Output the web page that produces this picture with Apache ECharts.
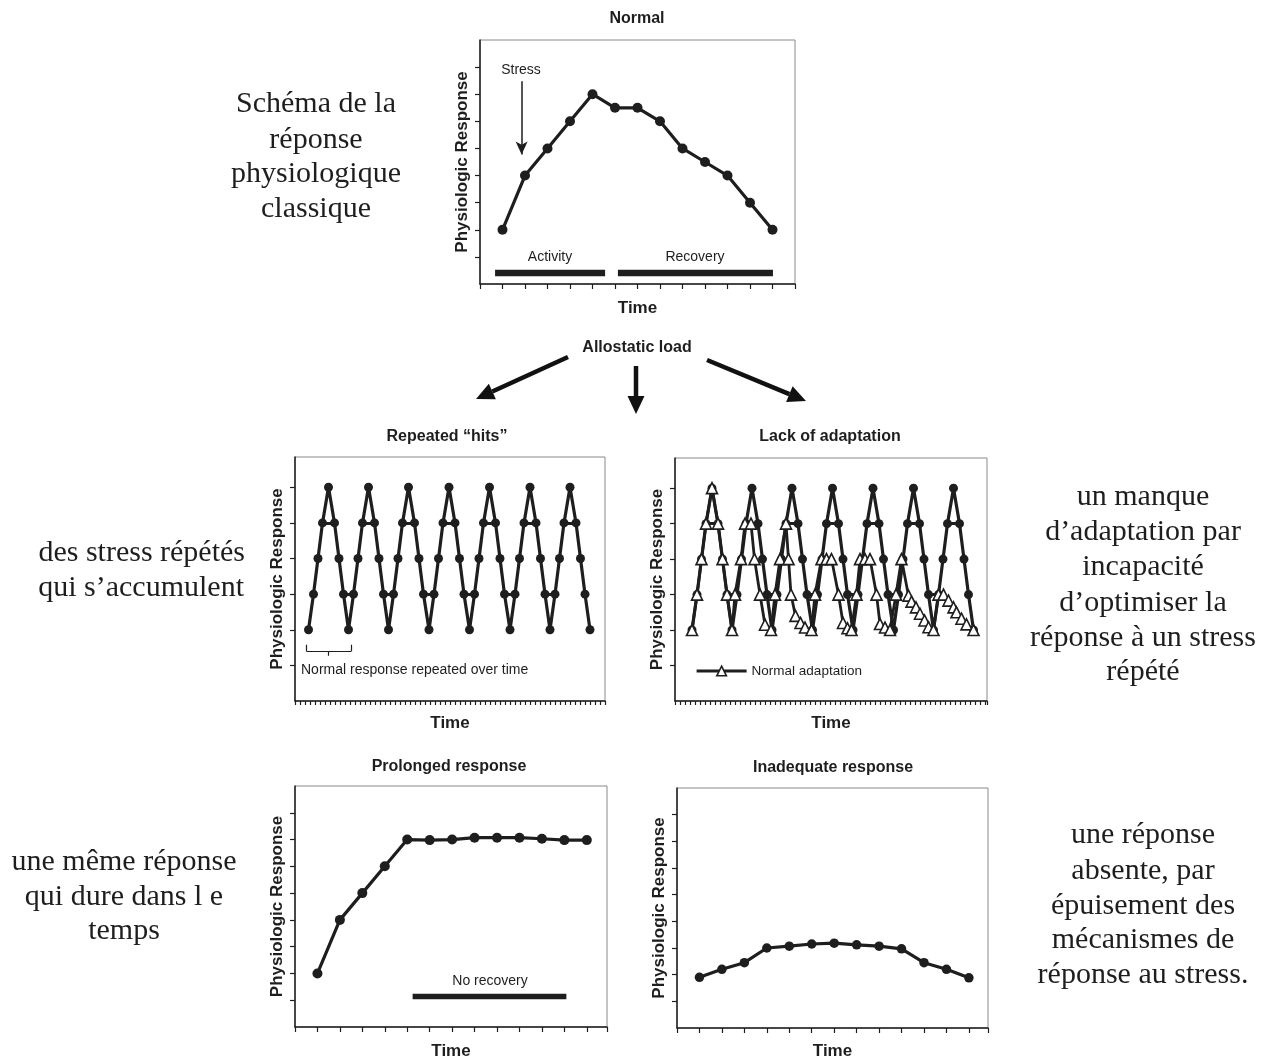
<!DOCTYPE html>
<html><head><meta charset="utf-8">
<script src="https://cdn.jsdelivr.net/npm/echarts@6/dist/echarts.min.js"></script>
<style>html,body{margin:0;padding:0;background:#fff}#c{width:1266px;height:1061px}</style>
</head><body><div id="c"></div>
<script>
// ---------------- DATA ----------------
// Normal
const normalTime = [1,2,3,4,5,6,7,8,9,10,11,12,13];
const normalResponse = [2,4,5,6,7,6.5,6.5,6,5,4.5,4,3,2];
const activitySpan = [0.67, 5.56];
const recoverySpan = [6.13, 13.02];
const phaseBarLevel = 0.41;
const stressArrowTime = 1.85;
const stressArrowFromTo = [7.48, 4.78];

// Repeated "hits"
const hitsTime = [2.7,3.7,4.6,5.5,6.7,7.9,8.8,9.7,
  10.7,11.7,12.6,13.5,14.7,15.9,16.8,17.7,
  18.7,19.7,20.6,21.5,22.7,23.9,24.8,25.7,
  26.8,27.8,28.7,29.6,30.8,32.0,32.9,33.8,
  34.9,35.9,36.8,37.7,38.9,40.1,41.0,41.9,
  43.0,44.0,44.9,45.8,47.0,48.2,49.1,50.0,
  51.0,52.0,52.9,53.8,55.0,56.2,57.1,58.0,
  59.0];
const hitsResponse = [2,3,4,5,6,5,4,3,
  2,3,4,5,6,5,4,3,
  2,3,4,5,6,5,4,3,
  2,3,4,5,6,5,4,3,
  2,3,4,5,6,5,4,3,
  2,3,4,5,6,5,4,3,
  2,3,4,5,6,5,4,3,
  2];
const bracketSpan = [2.34, 11.2];
const bracketMid = 6.67;
const bracketBarLevel = 1.39, bracketEndLevel = 1.58, bracketMidLevel = 1.27;

// Lack of adaptation: normal adaptation (triangles)
const adaptTime = [2.7,3.7,4.6,5.5,6.7,7.9,8.8,9.7,10.7,
  11.3,12.5,13.3,14.5,15.2,16.3,17.3,18.5,
  19.3,20.3,21.5,22.0,22.5,23.4,24.4,25.3,26.6,
  27.3,28.6,29.6,30.6,32.0,32.9,33.8,34.6,
  35.6,36.3,37.3,38.3,39.6,40.3,41.3,42.3,
  43.5,44.6,46.0,46.6,47.5,48.3,49.2,50.0,51.0,
  52.0,53.0,54.0,55.0,55.6,56.6,57.6,59.0];
const adaptResponse = [2,3,4,5,6,5,4,3,2,
  3,4,5,5,4,3,2.15,2,
  3,4,5,4,3,2.4,2.2,2.07,2,
  3,4,4,4,3,2.2,2.05,2,
  3,4,4,4,3,2.17,2.07,2,
  3,4,2.97,2.8,2.64,2.46,2.27,2.08,2,
  3,3,2.83,2.64,2.5,2.32,2.16,2];

// Prolonged response
const prolongedTime = [1,2,3,4,5,6,7,8,9,10,11,12,13];
const prolongedResponse = [2,4,5,6,7,6.98,7,7.07,7.07,7.07,7.03,6.98,6.98];
const noRecoverySpan = [5.24, 12.09];
const noRecoveryLevel = 1.14;

// Inadequate response
const inadequateTime = [1,2,3,4,5,6,7,8,9,10,11,12,13];
const inadequateResponse = [1.9,2.2,2.45,3.0,3.07,3.15,3.18,3.12,3.07,2.97,2.45,2.2,1.88];

const yTicksTall = [1,2,3,4,5,6,7,8];
const yTicksShort = [1,2,3,4,5,6];

// ---------------- STYLE / LAYOUT ----------------
const SANS = "'Liberation Sans', Arial, sans-serif";
const SERIF = "'Liberation Serif', 'Times New Roman', serif";
const INK = '#1e1e1e';

const grids = [
  {left:480, top:40,  width:315, height:244},
  {left:295, top:457, width:310, height:244},
  {left:675, top:458, width:312, height:243},
  {left:295, top:786, width:312, height:241},
  {left:677, top:788, width:311, height:240}
].map(g => Object.assign(g, {show:true, borderColor:'#8a8a8a', borderWidth:1, backgroundColor:'transparent'}));

function xAxis(i, min, max, nameGap, tickLen) {
  return {type:'value', gridIndex:i, min, max, interval:1,
    axisLine:{show:true, onZero:false, lineStyle:{color:INK, width:1.5}},
    axisTick:{show:true, length:tickLen, lineStyle:{color:INK, width:1.2}},
    axisLabel:{show:false}, splitLine:{show:false},
    name:'Time', nameLocation:'middle', nameGap,
    nameTextStyle:{fontFamily:SANS, fontWeight:'bold', fontSize:17, color:INK}};
}
function yAxis(i, max, ticks) {
  return {type:'value', gridIndex:i, min:0, max, interval:1,
    axisLine:{show:true, onZero:false, lineStyle:{color:INK, width:1.5}},
    axisTick:{show:true, length:5, customValues:ticks, lineStyle:{color:INK, width:1.2}},
    axisLabel:{show:false, customValues:ticks}, splitLine:{show:false},
    name:'Physiologic Response', nameLocation:'middle', nameGap:9, nameRotate:90,
    nameTextStyle:{fontFamily:SANS, fontWeight:'bold', fontSize:17, color:INK}};
}

function pairs(xs, ys) { return xs.map((x, i) => [x, ys[i]]); }
function crossbars(xs, ys) {
  const out = [];
  for (let i = 0; i + 2 < ys.length; i++) {
    if (ys[i] === ys[i+2]) out.push([{coord:[xs[i], ys[i]]}, {coord:[xs[i+2], ys[i+2]]}]);
  }
  return out;
}
function lineSeries(name, i, data, size, extra) {
  return Object.assign({type:'line', name, xAxisIndex:i, yAxisIndex:i, data,
    symbol:'circle', symbolSize:size, showSymbol:true,
    lineStyle:{color:INK, width:3.2}, itemStyle:{color:INK},
    emphasis:{disabled:true}, z:3}, extra || {});
}
function spanSeries(name, i, span, level, width) {
  return {type:'line', name, xAxisIndex:i, yAxisIndex:i,
    data:[[span[0], level],[span[1], level]], symbol:'none',
    lineStyle:{color:INK, width, cap:'butt'}, emphasis:{disabled:true}};
}
const barMark = (segs, w) => ({silent:true, symbol:['none','none'], label:{show:false},
  lineStyle:{color:INK, width:w, type:'solid'}, emphasis:{disabled:true}, data:segs});

// text helpers
function txt(text, x, y, font, align) {
  return {type:'text', x, y, silent:true, style:{text, font, fill:INK,
    align: align || 'center', verticalAlign:'middle', textAlign: align || 'center', textVerticalAlign:'middle'}};
}
function arrow(x0, y0, x1, y1) {
  const dx = x1 - x0, dy = y1 - y0, L = Math.hypot(dx, dy), ux = dx / L, uy = dy / L;
  const hl = 18, hw = 8.5;
  const bx = x1 - ux * hl, by = y1 - uy * hl;
  return [
    {type:'line', silent:true, shape:{x1:x0, y1:y0, x2:bx, y2:by}, style:{stroke:'#111', lineWidth:4.5}},
    {type:'polygon', silent:true, shape:{points:[[x1,y1],[bx - uy*hw, by + ux*hw],[bx + uy*hw, by - ux*hw]]}, style:{fill:'#111'}}
  ];
}

const bold16 = "bold 16px " + SANS;
const small14 = "14px " + SANS;
const serif30 = "30px " + SERIF;

const graphics = [
  txt('Normal', 637, 19, bold16),
  txt('Repeated \u201chits\u201d', 447, 437, bold16),
  txt('Lack of adaptation', 830, 437, bold16),
  txt('Prolonged response', 449, 767, bold16),
  txt('Inadequate response', 833, 768, bold16),
  txt('Allostatic load', 637, 348, bold16),
  txt('Stress', 521, 70, small14),
  txt('Activity', 550, 257, small14),
  txt('Recovery', 695, 257, small14),
  txt('No recovery', 490, 981, small14),
  txt('Normal response repeated over time', 301, 670, small14, 'left'),
  // serif commentary
  txt('Schéma de la', 316, 104, serif30),
  txt('réponse', 316, 140, serif30),
  txt('physiologique', 316, 174, serif30),
  txt('classique', 316, 209, serif30),
  txt('des stress répétés', 245, 553, serif30, 'right'),
  txt('qui s\u2019accumulent', 244, 588, serif30, 'right'),
  txt('une même réponse', 124, 862, serif30),
  txt('qui dure dans l e', 124, 897, serif30),
  txt('temps', 124, 931, serif30),
  txt('un manque', 1143, 497, serif30),
  txt('d\u2019adaptation par', 1143, 532, serif30),
  txt('incapacité', 1143, 567, serif30),
  txt('d\u2019optimiser la', 1143, 603, serif30),
  txt('réponse à un stress', 1143, 638, serif30),
  txt('répété', 1143, 672, serif30),
  txt('une réponse', 1143, 835, serif30),
  txt('absente, par', 1143, 871, serif30),
  txt('épuisement des', 1143, 906, serif30),
  txt('mécanismes de', 1143, 940, serif30),
  txt('réponse au stress.', 1143, 975, serif30),
  ...arrow(568, 357, 476, 399),
  ...arrow(636, 366, 636, 414),
  ...arrow(707, 360, 806, 401)
];

const option = {
  animation:false,
  backgroundColor:'#fff',
  grid: grids,
  xAxis: [xAxis(0, 0, 14, 16, 5), xAxis(1, 0, 62, 14, 4), xAxis(2, -0.7, 61.7, 14, 4), xAxis(3, 0, 13.9, 16, 5), xAxis(4, 0, 13.85, 15, 5)],
  yAxis: [yAxis(0, 9, yTicksTall), yAxis(1, 6.85, yTicksShort), yAxis(2, 6.85, yTicksShort), yAxis(3, 9, yTicksTall), yAxis(4, 9, yTicksTall)],
  legend: {data:['Normal adaptation'], left:690, top:659, itemWidth:50, itemHeight:12, selectedMode:false,
    lineStyle:{width:3.2, color:INK},
    itemStyle:{color:'#fff', borderColor:INK, borderWidth:1.6},
    textStyle:{fontFamily:SANS, fontSize:13.5, color:INK}},
  series: [
    lineSeries('Normal', 0, pairs(normalTime, normalResponse), 10, {
      markLine:{silent:true, symbol:['none','arrow'], symbolSize:[9,13], label:{show:false},
        lineStyle:{color:INK, width:1.5, type:'solid'}, emphasis:{disabled:true},
        data:[[{coord:[stressArrowTime, stressArrowFromTo[0]]},{coord:[stressArrowTime, stressArrowFromTo[1]]}]]}
    }),
    spanSeries('Activity', 0, activitySpan, phaseBarLevel, 6.5),
    spanSeries('Recovery', 0, recoverySpan, phaseBarLevel, 6.5),
    lineSeries('Repeated hits', 1, pairs(hitsTime, hitsResponse), 9, {
      markLine: barMark(crossbars(hitsTime, hitsResponse), 3)
    }),
    {type:'line', name:'Bracket', xAxisIndex:1, yAxisIndex:1, data:[], symbol:'none',
      markLine: barMark([
        [{coord:[bracketSpan[0], bracketEndLevel]},{coord:[bracketSpan[0], bracketBarLevel]}],
        [{coord:[bracketSpan[0], bracketBarLevel]},{coord:[bracketSpan[1], bracketBarLevel]}],
        [{coord:[bracketSpan[1], bracketBarLevel]},{coord:[bracketSpan[1], bracketEndLevel]}],
        [{coord:[bracketMid, bracketBarLevel]},{coord:[bracketMid, bracketMidLevel]}]
      ], 1.2)},
    lineSeries('Lack of adaptation', 2, pairs(hitsTime, hitsResponse), 9, {
      markLine: barMark(crossbars(hitsTime, hitsResponse), 3)
    }),
    lineSeries('Normal adaptation', 2, pairs(adaptTime, adaptResponse), 11, {
      symbol:'triangle', itemStyle:{color:'#fff', borderColor:INK, borderWidth:1.6},
      lineStyle:{color:INK, width:2.8}, z:5
    }),
    lineSeries('Prolonged', 3, pairs(prolongedTime, prolongedResponse), 10),
    spanSeries('No recovery', 3, noRecoverySpan, noRecoveryLevel, 5.5),
    lineSeries('Inadequate', 4, pairs(inadequateTime, inadequateResponse), 9.5)
  ],
  graphic: graphics
};

const chart = echarts.init(document.getElementById('c'), null, {renderer:'canvas'});
chart.setOption(option);
</script>
</body></html>
